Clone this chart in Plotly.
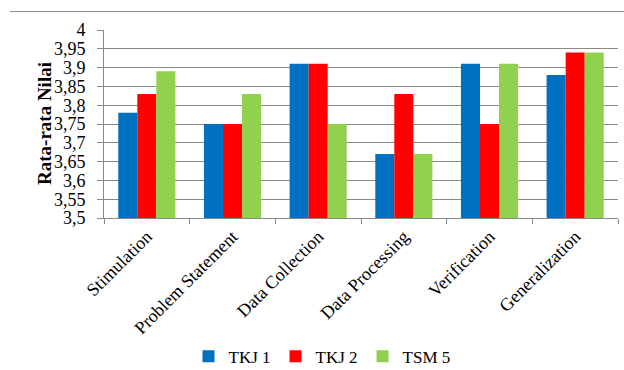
import plotly.graph_objects as go

categories = ["Stimulation", "Problem Statement", "Data Collection",
              "Data Processing", "Verification", "Generalization"]
tkj1 = [3.78, 3.75, 3.91, 3.67, 3.91, 3.88]
tkj2 = [3.83, 3.75, 3.91, 3.83, 3.75, 3.94]
tsm5 = [3.89, 3.83, 3.75, 3.67, 3.91, 3.94]
series_names = ["TKJ 1", "TKJ 2", "TSM 5"]
colors = ["#0070C0", "#FF0000", "#92D050"]
y_ticks = [3.5, 3.55, 3.6, 3.65, 3.7, 3.75, 3.8, 3.85, 3.9, 3.95, 4.0]

W, H = 624, 370
L, R, T, B = 104, 6, 29.5, 152
font_serif = "Liberation Serif, Times New Roman, serif"

fig = go.Figure()
for name, vals, col in zip(series_names, [tkj1, tkj2, tsm5], colors):
    fig.add_trace(go.Bar(x=categories, y=vals, name=name,
                         marker=dict(color=col, line=dict(width=0)),
                         hoverinfo="skip"))

fig.update_layout(
    width=W, height=H,
    margin=dict(l=L, r=R, t=T, b=B, pad=0, autoexpand=False),
    paper_bgcolor="white", plot_bgcolor="white",
    barmode="group", bargap=1/3, bargroupgap=0,
    separators=",.",
    font=dict(family=font_serif, size=18, color="#000000"),
    showlegend=True,
    legend=dict(orientation="h", x=(322 - L) / (W - L - R), xanchor="center",
                y=-(375 - (H - B)) / (H - T - B), yanchor="bottom",
                font=dict(family=font_serif, size=17),
                itemwidth=30, tracegroupgap=0,
                bgcolor="rgba(0,0,0,0)"),
)
fig.update_xaxes(
    type="category", showgrid=False, tickangle=-45,
    showline=True, linecolor="#8a8a8a", linewidth=1,
    ticks="outside", tickson="boundaries", ticklen=5, tickcolor="#8a8a8a",
    tickfont=dict(family=font_serif, size=18),
)
fig.update_yaxes(
    range=[3.5, 4.0], tickmode="array",
    tickvals=y_ticks,
    ticktext=[("%g" % v).replace(".", ",") for v in y_ticks],
    showgrid=True, gridcolor="#8a8a8a", gridwidth=1,
    showline=True, linecolor="#8a8a8a", linewidth=1,
    ticks="outside", ticklen=6, tickcolor="#8a8a8a",
    ticklabelstandoff=8,
    tickfont=dict(family=font_serif, size=18),
    zeroline=False,
)
fig.add_annotation(text="<b>Rata-rata Nilai</b>", textangle=-90,
                   xref="paper", yref="paper",
                   x=(44 - L) / (W - L - R), y=0.5, xanchor="center", yanchor="middle",
                   showarrow=False, font=dict(family=font_serif, size=19))
fig.add_shape(type="line", xref="paper", yref="paper",
              x0=(10 - L) / (W - L - R), x1=(624 - L) / (W - L - R),
              y0=(H - B - 11) / (H - T - B), y1=(H - B - 11) / (H - T - B),
              line=dict(color="#8a8a8a", width=1))
fig.write_html("out.html")
